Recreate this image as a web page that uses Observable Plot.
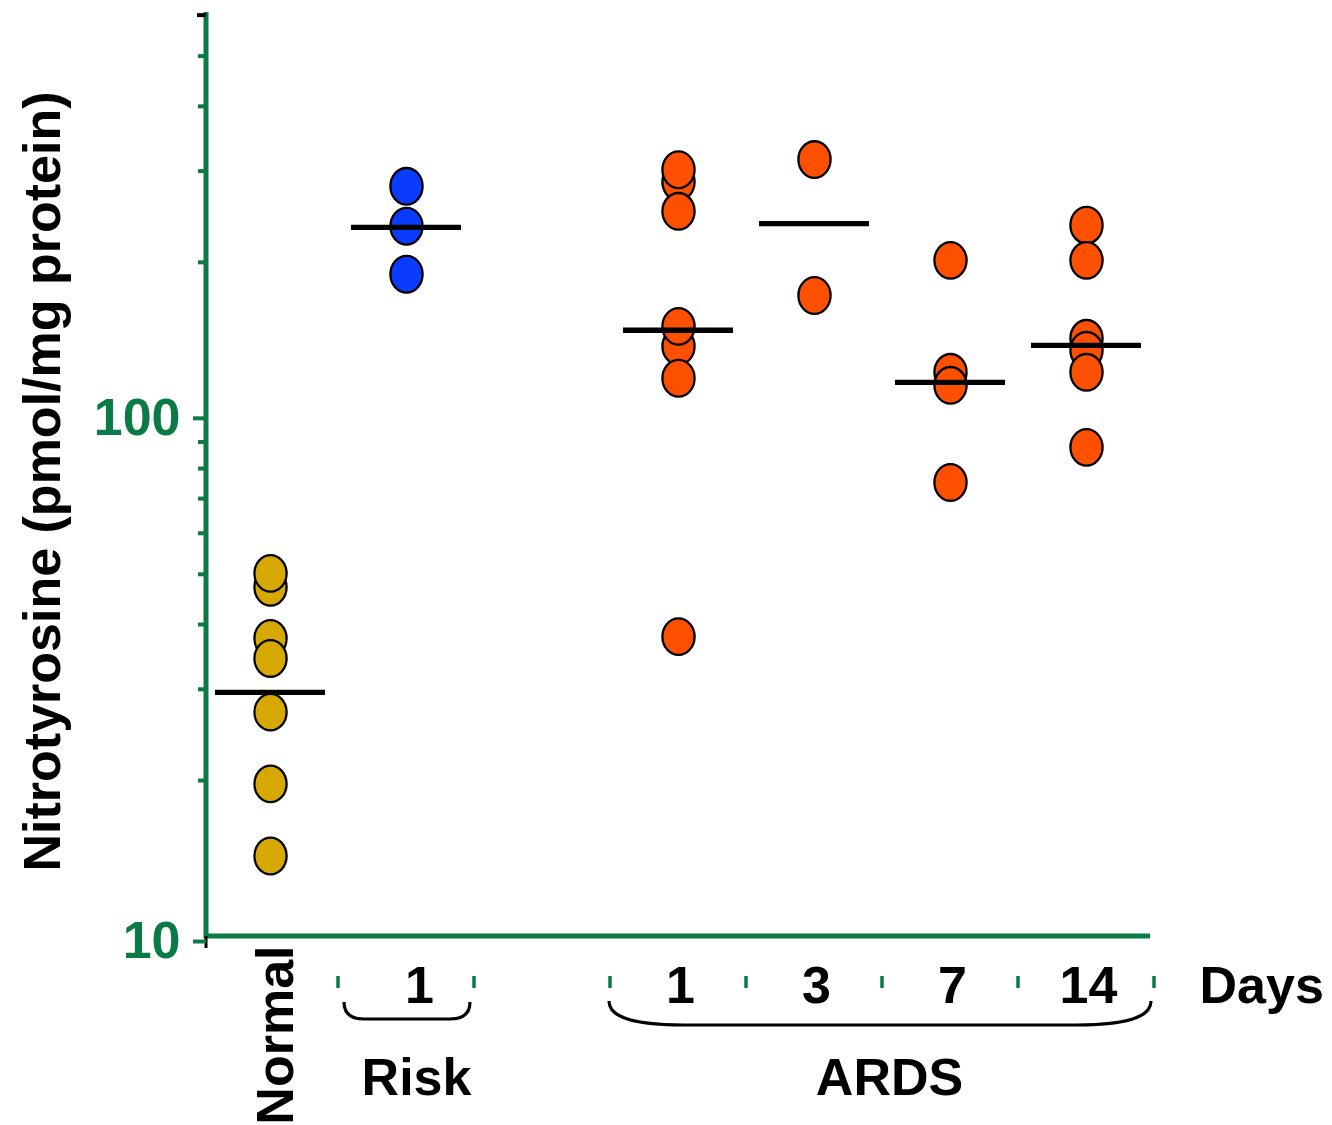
<!DOCTYPE html>
<html><head><meta charset="utf-8">
<script src="https://cdn.jsdelivr.net/npm/d3@7"></script>
<script src="https://cdn.jsdelivr.net/npm/@observablehq/plot@0.6"></script>
<style>html,body{margin:0;padding:0;background:#fff}</style>
</head><body><div id="chart"></div>
<script>
const GREEN = "#0a7a46";
const FONT = "'Liberation Sans', Arial, Helvetica, sans-serif";

// categories (spacer keeps the gap between Risk and ARDS)
const categories = ["Normal", "Risk 1", "ARDS 1", "ARDS 3", "ARDS 7", "ARDS 14"];
const xDomain = ["Normal", "Risk 1", "gap", "ARDS 1", "ARDS 3", "ARDS 7", "ARDS 14"];
const dayCategories = ["Risk 1", "ARDS 1", "ARDS 3", "ARDS 7", "ARDS 14"];
const dayTickLabels = ["1", "1", "3", "7", "14"];

// values (pmol/mg protein)
const normalValues   = [47.2, 50.2, 37.6, 34.4, 27.1, 19.7, 14.3];
const riskDay1Values = [280.4, 234.8, 189.7];
const ardsDay1Values = [285.8, 301.8, 250.9, 137.7, 150.5, 119.5, 37.9];
const ardsDay3Values = [315.8, 172.6];
const ardsDay7Values = [201.8, 122.7, 115.8, 75.2];
const ardsDay14Values = [235.9, 201.8, 142.7, 135.3, 122.7, 87.9];
const meanValues = [29.6, 233.7, 147.9, 237.6, 117.3, 138.3];
const groupColors = ["#d6a800", "#0a3cff", "#ff5000", "#ff5000", "#ff5000", "#ff5000"];

const yLabelTicks = [10, 100];
const yMinorTicks = [20, 30, 40, 50, 60, 70, 80, 90, 200, 300, 400, 500];
const yTopTick = [600];

const seriesValues = [normalValues, riskDay1Values, ardsDay1Values, ardsDay3Values, ardsDay7Values, ardsDay14Values];
const points = seriesValues.flatMap((vals, i) => vals.map(v => ({cat: categories[i], value: v, color: groupColors[i]})));
const means = categories.map((c, i) => ({cat: c, value: meanValues[i]}));
const dayLabelOf = new Map(dayCategories.map((c, i) => [c, dayTickLabels[i]]));

// slightly tall ellipse symbol
const ellipse = {
  draw(ctx, size) {
    const r = Math.sqrt(size / Math.PI);
    const rx = r * 0.88, ry = r, k = 0.5523;
    ctx.moveTo(rx, 0);
    ctx.bezierCurveTo(rx, ry * k, rx * k, ry, 0, ry);
    ctx.bezierCurveTo(-rx * k, ry, -rx, ry * k, -rx, 0);
    ctx.bezierCurveTo(-rx, -ry * k, -rx * k, -ry, 0, -ry);
    ctx.bezierCurveTo(rx * k, -ry, rx, -ry * k, rx, 0);
    ctx.closePath();
  }
};

function decorations(index, scales, values, dims) {
  const x = scales.x;
  const step = x(xDomain[1]) - x(xDomain[0]);
  let bw = x.bandwidth;
  if (typeof bw === "function") bw = bw();
  if (typeof bw !== "number") bw = step * (1 - 0.194);
  const cx = c => x(c) + bw / 2;
  const {width, height, marginLeft, marginRight, marginTop, marginBottom} = dims;
  const x0 = marginLeft, x1 = width - marginRight, yb = height - marginBottom;
  const g = d3.create("svg:g");
  // axis lines
  g.append("path").attr("d", `M${x0},${marginTop}V${yb}H${x1}`)
    .attr("fill", "none").attr("stroke", GREEN).attr("stroke-width", 5);
  g.append("line").attr("x1", x0).attr("x2", x0).attr("y1", yb).attr("y2", yb + 12)
    .attr("stroke", "black").attr("stroke-width", 3);
  // group separators (dashes)
  const dashX = new Set();
  dayCategories.forEach(c => { dashX.add(Math.round(cx(c) - step / 2)); dashX.add(Math.round(cx(c) + step / 2)); });
  for (const dx of dashX) {
    g.append("line").attr("x1", dx).attr("x2", dx).attr("y1", yb + 40).attr("y2", yb + 52)
      .attr("stroke", GREEN).attr("stroke-width", 3.5);
  }
  // braces
  const rl = cx("Risk 1") - step / 2 + 6, rr = cx("Risk 1") + step / 2 - 4;
  const rt = yb + 66, rb = yb + 83;
  g.append("path").attr("d", `M${rl},${rt}Q${rl},${rb} ${rl + 20},${rb}H${rr - 20}Q${rr},${rb} ${rr},${rt}`)
    .attr("fill", "none").attr("stroke", "black").attr("stroke-width", 3.2);
  const al = cx("ARDS 1") - step / 2 - 1, ar = cx("ARDS 14") + step / 2 - 3;
  const at = yb + 65, ab = yb + 89;
  g.append("path").attr("d", `M${al},${at}C${al},${ab - 6} ${al + 30},${ab} ${al + 75},${ab}H${ar - 75}C${ar - 30},${ab} ${ar},${ab - 6} ${ar},${at}`)
    .attr("fill", "none").attr("stroke", "black").attr("stroke-width", 3.2);
  return g.node();
}

const labelStyle = {fontSize: 52, fontWeight: "bold"};

const chart = Plot.plot({
  width: 1332, height: 1125,
  marginLeft: 206, marginRight: 182, marginTop: 12, marginBottom: 189,
  style: {fontFamily: FONT, background: "white", overflow: "visible"},
  x: {type: "band", domain: xDomain, paddingInner: 0.194, paddingOuter: 0.0575, axis: null, label: null},
  y: {type: "log", domain: [10, 607], axis: null, label: null},
  color: {type: "identity"},
  marks: [
    decorations,
    Plot.axisY(yMinorTicks, {label: null, tickSize: 8, tickFormat: () => "", color: GREEN, strokeWidth: 4}),
    Plot.axisY(yTopTick, {label: null, tickSize: 9, tickFormat: () => "", color: "black", strokeWidth: 4}),
    Plot.axisY([yLabelTicks[1]], {label: null, tickSize: 13, tickPadding: 13, tickFormat: d => String(d), ...labelStyle, color: GREEN, strokeWidth: 4}),
    Plot.axisY([yLabelTicks[0]], {label: null, tickSize: 13, tickPadding: 13, tickFormat: d => String(d), ...labelStyle, color: GREEN, strokeWidth: 4, dy: 5}),
    Plot.text(["Nitrotyrosine (pmol/mg protein)"], {text: d => d, frameAnchor: "left", rotate: -90, dx: -163, dy: 7, ...labelStyle, lineAnchor: "middle", textAnchor: "middle", fill: "black"}),
    Plot.axisX([dayCategories[0]], {label: null, tickSize: 0, tickPadding: 30, tickFormat: d => dayLabelOf.get(d), ...labelStyle, color: "black", dx: 13}),
    Plot.axisX(dayCategories.slice(1), {label: null, tickSize: 0, tickPadding: 30, tickFormat: d => dayLabelOf.get(d), ...labelStyle, color: "black", dx: 2}),
    Plot.text(["Normal"], {x: d => d, text: d => d, frameAnchor: "bottom", rotate: -90, textAnchor: "end", lineAnchor: "middle", dx: 6, dy: 9, ...labelStyle, fill: "black"}),
    Plot.text(["Risk"], {x: () => "Risk 1", text: d => d, frameAnchor: "bottom", lineAnchor: "top", dx: 10, dy: 122, ...labelStyle, fill: "black"}),
    Plot.text(["ARDS"], {x: () => "ARDS 3", text: d => d, frameAnchor: "bottom", lineAnchor: "top", dx: 75, dy: 122, ...labelStyle, fill: "black"}),
    Plot.text(["Days"], {x: () => "ARDS 14", text: d => d, frameAnchor: "bottom", lineAnchor: "top", textAnchor: "start", dx: 113, dy: 30, ...labelStyle, fill: "black"}),
    Plot.dot(points, {x: "cat", y: "value", fill: "color", stroke: "black", strokeWidth: 2.3, symbol: ellipse, r: 18.3}),
    Plot.tickY(means, {x: "cat", y: "value", stroke: "black", strokeWidth: 5.3})
  ]
});
document.getElementById("chart").append(chart);
</script>
</body></html>
